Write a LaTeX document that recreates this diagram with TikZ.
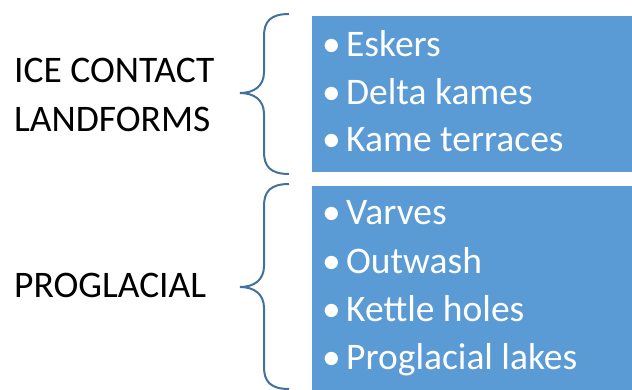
\documentclass[tikz,border=0pt]{standalone}
\usepackage{fontspec}
\setmainfont{Carlito}
\definecolor{boxblue}{HTML}{5B9BD5}
\definecolor{braceblue}{HTML}{41719C}
\tikzset{
  label/.style={anchor=base west, inner sep=0pt, text=black, font=\fontsize{37.5}{47}\selectfont},
  item/.style={anchor=base west, inner sep=0pt, text=white, font=\fontsize{37.5}{47}\selectfont},
  listbox/.style={draw=white, line width=0.6pt, fill=boxblue, inner sep=0pt, anchor=north west},
  brace/.style={draw=braceblue, line width=2pt}
}
\newcommand{\bul}{\makebox[21pt][l]{\hspace{-3pt}•}}
\begin{document}
\begin{tikzpicture}[x=1pt,y=1pt]
\useasboundingbox (0,0) rectangle (632,-390);

% blue boxes
\node [listbox, minimum width=322pt, minimum height=157pt] (box1) at (311,-15.5) {};
\node [listbox, minimum width=322pt, minimum height=206pt] (box2) at (311,-185.5) {};

% left labels
\node [label] (ice) at (14,-83) {ICE CONTACT};
\node [label] (landforms) at (14,-132) {LANDFORMS};
\node [label] (proglacial) at (14,-298) {PROGLACIAL};

% list items
\node [item] (eskers) at (325,-57) {\bul Eskers};
\node [item] (delta) at (325,-104.5) {\bul Delta kames};
\node [item] (terraces) at (325,-152) {\bul Kame terraces};

\node [item] (varves) at (325,-225) {\bul Varves};
\node [item] (outwash) at (325,-273) {\bul Outwash};
\node [item] (kettle) at (325,-321) {\bul Kettle holes};
\node [item] (lakes) at (325,-369) {\bul Proglacial lakes};

% brace coordinates
\coordinate (t1) at (289,-14);
\coordinate (m1) at (240,-93);
\coordinate (b1) at (289,-174);
\coordinate (t2) at (289,-184);
\coordinate (m2) at (240,-287);
\coordinate (b2) at (289,-389);

% braces
\draw [brace] (t1) .. controls (270,-14) and (264,-22) .. (264,-36)
  -- (264,-72) .. controls (264,-86) and (254,-93) .. (m1)
  .. controls (254,-93) and (264,-100) .. (264,-114)
  -- (264,-152) .. controls (264,-166) and (270,-174) .. (b1);
\draw [brace] (t2) .. controls (270,-184) and (264,-192) .. (264,-206)
  -- (264,-266) .. controls (264,-280) and (254,-287) .. (m2)
  .. controls (254,-287) and (264,-294) .. (264,-308)
  -- (264,-367) .. controls (264,-381) and (270,-389) .. (b2);
\end{tikzpicture}
\end{document}
